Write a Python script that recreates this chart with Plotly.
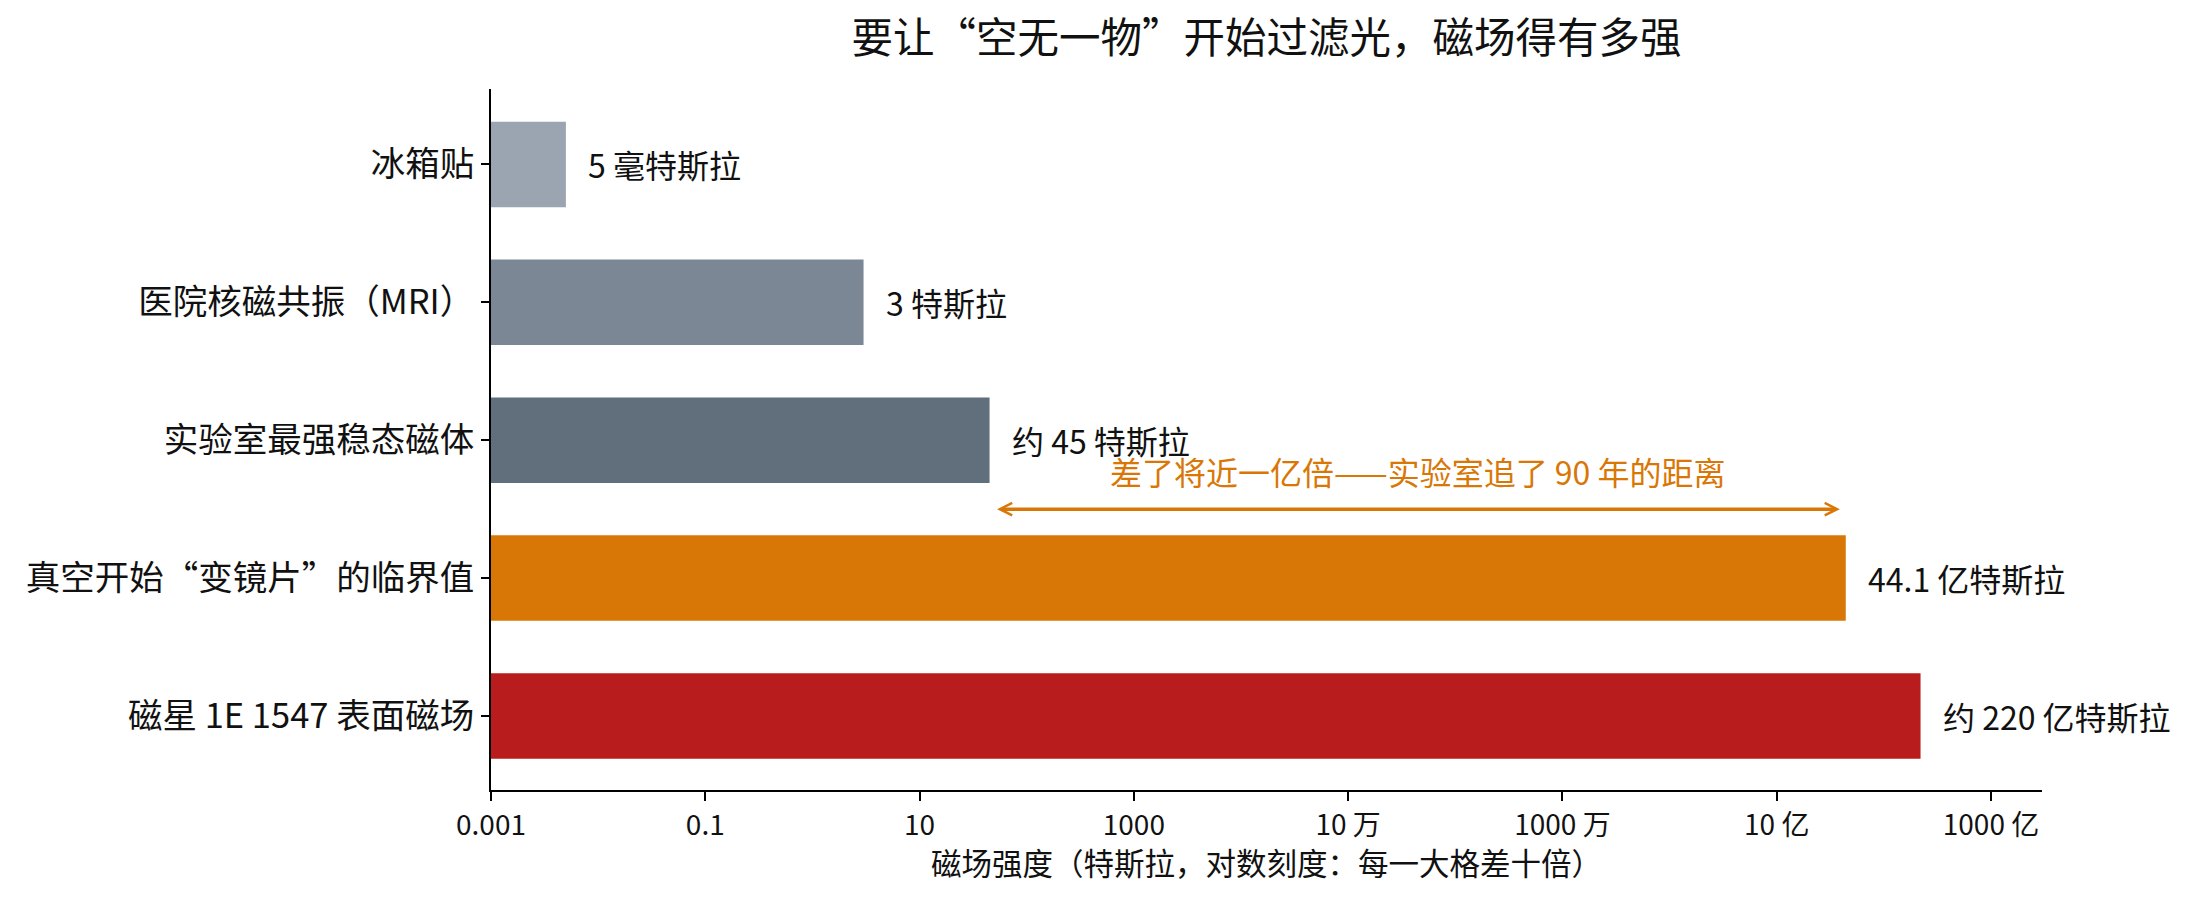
import math
import plotly.graph_objects as go

# ---- data ----
categories = ["冰箱贴", "医院核磁共振（MRI）", "实验室最强稳态磁体",
              "真空开始“变镜片”的临界值", "磁星 1E 1547 表面磁场"]
values_tesla = [0.005, 3, 45, 4.41e9, 2.2e10]
value_labels = ["5 毫特斯拉", "3 特斯拉", "约 45 特斯拉", "44.1 亿特斯拉", "约 220 亿特斯拉"]
bar_colors = ["#9AA5B1", "#7B8794", "#616E7C", "#D97706", "#B91C1C"]
tick_values = [1e-3, 1e-1, 1e1, 1e3, 1e5, 1e7, 1e9, 1e11]
tick_labels = ["0.001", "0.1", "10", "1000", "10 万", "1000 万", "10 亿", "1000 亿"]
title_text = "要让“空无一物”开始过滤光，磁场得有多强"
xaxis_title = "磁场强度（特斯拉，对数刻度：每一大格差十倍）"
gap_text = "差了将近一亿倍——实验室追了 90 年的距离"

FONT = "Noto Sans CJK SC"
TXT = "#111111"
ORANGE = "#D97706"

# page body has an 8px margin, so the figure is made 8px smaller
OFF = 8
W, H = 2189 - OFF, 899 - OFF
ML, MT = 491 - OFF, 89 - OFF
MR = W - (2042 - OFF)
MB = H - (790 - OFF)

y_pos = list(range(len(categories)))

fig = go.Figure()
fig.add_trace(go.Bar(
    y=y_pos, x=values_tesla, orientation="h",
    marker=dict(color=bar_colors, line=dict(width=0)),
    width=0.62, hoverinfo="skip",
))

# value labels
for yi, v, lab in zip(y_pos, values_tesla, value_labels):
    fig.add_annotation(x=math.log10(v), y=yi, text=lab, showarrow=False,
                       xanchor="left", yanchor="middle", xshift=20,
                       font=dict(family=FONT, size=32, color=TXT))

# gap arrow between lab magnet and critical field
lab_v = values_tesla[2]
crit_v = values_tesla[3]
x_left = math.log10(lab_v) + 0.056
x_right = math.log10(crit_v) - 0.055
fig.add_annotation(x=x_right, y=2.5, ax=x_left, ay=2.5, xref="x", yref="y",
                   axref="x", ayref="y", text="", showarrow=True,
                   arrowside="end+start", arrowhead=5, startarrowhead=5,
                   arrowsize=0.7, startarrowsize=0.7, arrowwidth=3.5,
                   arrowcolor=ORANGE, standoff=0, startstandoff=0)
fig.add_annotation(x=(x_left + x_right) / 2, y=2.222, text=gap_text,
                   showarrow=False, xanchor="center", yanchor="middle",
                   font=dict(family=FONT, size=32, color=ORANGE))

# x-axis title
fig.add_annotation(x=0.5, y=0, xref="paper", yref="paper", text=xaxis_title,
                   showarrow=False, xanchor="center", yanchor="middle", yshift=-72,
                   font=dict(family=FONT, size=30.5, color=TXT))

fig.update_layout(
    width=W, height=H,
    margin=dict(l=ML, r=MR, t=MT, b=MB, autoexpand=False),
    plot_bgcolor="white", paper_bgcolor="white",
    showlegend=False,
    title=dict(text=title_text, x=(ML + (W - MR)) / 2 / W, xanchor="center",
               y=1 - 30 / H, yanchor="middle", yref="container",
               font=dict(family=FONT, size=41.5, color=TXT)),
    font=dict(family=FONT, color=TXT),
)
fig.update_xaxes(
    type="log", range=[-3, 11.476], tickvals=tick_values, ticktext=tick_labels,
    showline=True, linecolor="black", linewidth=1.8, mirror=False,
    ticks="outside", ticklen=9, tickwidth=1.6, tickcolor="black",
    showgrid=False, zeroline=False,
    tickfont=dict(family=FONT, size=28, color=TXT),
)
fig.update_yaxes(
    range=[4.537, -0.547], tickvals=y_pos, ticktext=categories,
    showline=True, linecolor="black", linewidth=1.8,
    ticks="outside", ticklen=8, tickwidth=1.6, tickcolor="black",
    showgrid=False, zeroline=False,
    tickfont=dict(family=FONT, size=34.5, color=TXT),
)

fig.write_html("out.html")
